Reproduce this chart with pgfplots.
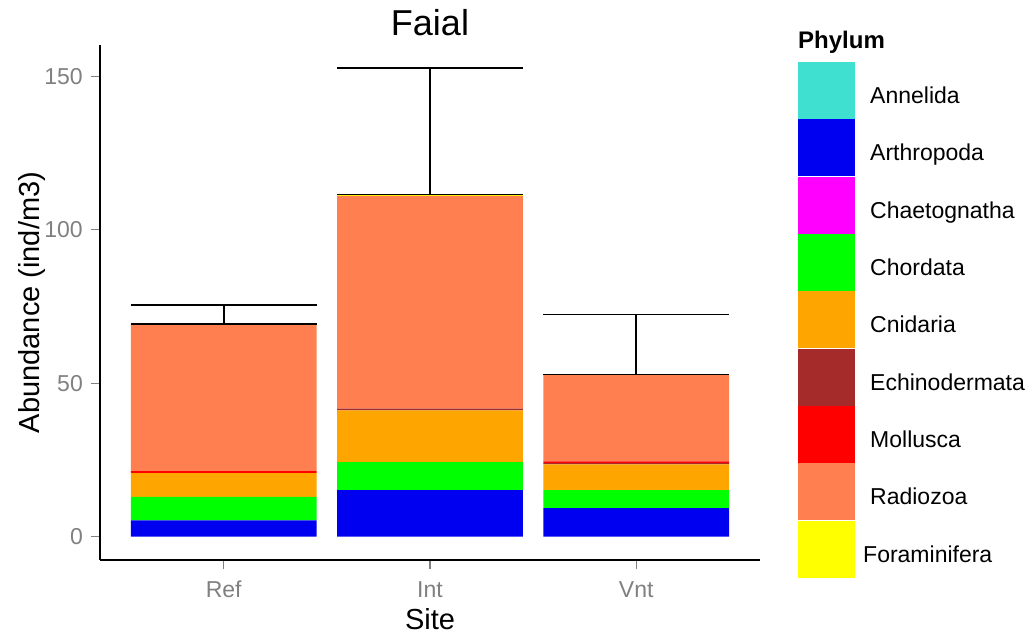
\documentclass[border=0pt]{standalone}
\usepackage{fontspec}
\setmainfont{Liberation Sans}
\usepackage{pgfplots}
\pgfplotsset{compat=1.18}
\definecolor{cAnn}{RGB}{64,224,208}
\definecolor{cArt}{RGB}{0,0,240}
\definecolor{cCha}{RGB}{255,0,255}
\definecolor{cCho}{RGB}{0,255,0}
\definecolor{cCni}{RGB}{255,165,0}
\definecolor{cEch}{RGB}{165,42,42}
\definecolor{cMol}{RGB}{255,0,0}
\definecolor{cRad}{RGB}{255,127,80}
\definecolor{cFor}{RGB}{255,255,0}
\definecolor{tickgray}{RGB}{128,128,128}
\begin{document}
\begin{tikzpicture}
\useasboundingbox (-100pt,-76pt) rectangle (934pt,560pt);
\begin{axis}[
  at={(0pt,0pt)}, anchor=south west,
  scale only axis, width=660pt, height=515pt,
  xmin=0.4, xmax=3.6, ymin=-7.63, ymax=160.2,
  axis lines*=left,
  axis line style={black, line width=1.3pt},
  ybar stacked, bar width=0.9,
  xtick={1,2,3}, xticklabels={Ref,Int,Vnt},
  ytick={0,50,100,150},
  tick align=outside, major tick length=9pt,
  tick style={tickgray, line width=1.2pt},
  /pgf/number format/assume math mode=true,
  ticklabel style={font=\fontsize{23}{27}\selectfont, text=tickgray},
  yticklabel style={inner sep=0pt, xshift=-8pt},
  xticklabel style={inner sep=0pt, yshift=-12pt},
  title={Faial},
  title style={at={(axis description cs:0.5,1)}, anchor=base, yshift=3pt, inner sep=0pt, font=\fontsize{36}{40}\selectfont},
  xlabel={Site},
  xlabel style={at={(axis description cs:0.5,-0.1359)}, anchor=base, inner sep=0pt, font=\fontsize{29}{33}\selectfont},
  ylabel={Abundance (ind/m3)},
  ylabel style={at={(axis description cs:-0.0924,0.5)}, anchor=base, inner sep=0pt, font=\fontsize{29}{33}\selectfont},
  clip=false,
]
\addplot[fill=cAnn, draw=none] coordinates {(1,0) (2,0) (3,0)};
\addplot[fill=cArt, draw=none] coordinates {(1,5.3) (2,15.1) (3,9.3)};
\addplot[fill=cCha, draw=none] coordinates {(1,0) (2,0) (3,0)};
\addplot[fill=cCho, draw=none] coordinates {(1,7.6) (2,9.2) (3,5.8)};
\addplot[fill=cCni, draw=none] coordinates {(1,7.8) (2,16.85) (3,8.4)};
\addplot[fill=cEch, draw=none] coordinates {(1,0) (2,0.55) (3,0.4)};
\addplot[fill=cMol, draw=none] coordinates {(1,0.6) (2,0) (3,0.6)};
\addplot[fill=cRad, draw=none] coordinates {(1,47.95) (2,69.3) (3,28.3)};
\addplot[fill=cFor, draw=none] coordinates {(1,0) (2,0.5) (3,0)};
\end{axis}
\begin{axis}[
  at={(0pt,0pt)}, anchor=south west,
  scale only axis, width=660pt, height=515pt,
  xmin=0.4, xmax=3.6, ymin=-7.63, ymax=160.2,
  hide axis, clip=false,
]
\addplot[black, line width=1.8pt] coordinates {(0.55,69.25) (1.45,69.25)};
\addplot[black, line width=1.8pt] coordinates {(0.55,75.5) (1.45,75.5)};
\addplot[black, line width=1.8pt] coordinates {(1,69.25) (1,75.5)};
\addplot[black, line width=1.8pt] coordinates {(1.55,111.5) (2.45,111.5)};
\addplot[black, line width=1.8pt] coordinates {(1.55,152.8) (2.45,152.8)};
\addplot[black, line width=1.8pt] coordinates {(2,111.5) (2,152.8)};
\addplot[black, line width=1.8pt] coordinates {(2.55,52.8) (3.45,52.8)};
\addplot[black, line width=1.8pt] coordinates {(2.55,72.4) (3.45,72.4)};
\addplot[black, line width=1.8pt] coordinates {(3,52.8) (3,72.4)};
\end{axis}
% legend
\node[anchor=base west, inner sep=0pt, font=\bfseries\fontsize{24}{28}\selectfont] at (698pt,511pt) {Phylum};
\foreach \c/\t/\dx [count=\i from 0] in {cAnn/Annelida/0, cArt/Arthropoda/0, cCha/Chaetognatha/0, cCho/Chordata/0, cCni/Cnidaria/0, cEch/Echinodermata/0, cMol/Mollusca/0, cRad/Radiozoa/0, cFor/Foraminifera/-7} {
  \pgfmathsetmacro\yt{498-57.33*\i}
  \pgfmathsetmacro\yb{498-57.33*(\i+1)}
  \pgfmathsetmacro\yl{456.5-57.33*\i}
  \fill[\c] (698pt,\yt pt) rectangle (755pt,\yb pt);
  \draw[white, line width=0.8pt] (698pt,\yb pt) -- (755pt,\yb pt);
  \node[anchor=base west, inner sep=0pt, font=\fontsize{23}{27}\selectfont] at (770pt+\dx pt,\yl pt) {\t};
}
\end{tikzpicture}
\end{document}
